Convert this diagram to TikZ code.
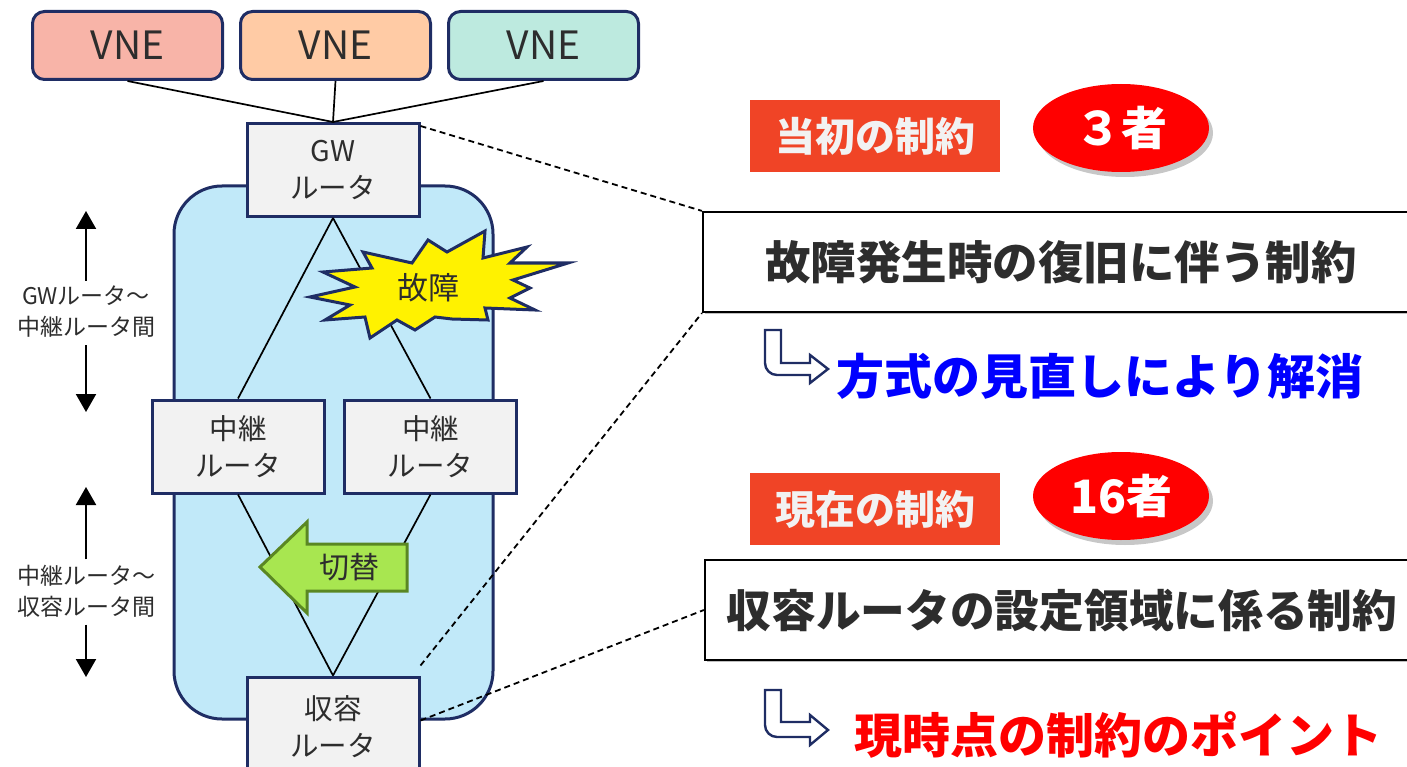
\documentclass[tikz,border=0pt]{standalone}
\usepackage{fontspec}
\setmainfont{Noto Sans CJK JP}
\usetikzlibrary{arrows.meta,shadows,calc,shapes.geometric}
\definecolor{navy}{RGB}{31,45,100}
\definecolor{vnered}{RGB}{248,180,168}
\definecolor{vneorange}{RGB}{255,203,165}
\definecolor{vnegreen}{RGB}{189,234,223}
\definecolor{boxgray}{RGB}{242,242,242}
\definecolor{zoneblue}{RGB}{193,233,249}
\definecolor{txtgray}{RGB}{45,45,45}
\definecolor{labelred}{RGB}{240,68,38}
\definecolor{switchgreen}{RGB}{168,230,80}
\definecolor{switchborder}{RGB}{90,135,35}
\definecolor{solvedblue}{RGB}{0,0,255}
\tikzset{
  vnebox/.style={draw=navy, line width=3pt, rounded corners=12pt, minimum width=190pt, minimum height=68pt, text=txtgray, font=\fontsize{39}{44}\selectfont},
  router/.style={draw=navy, line width=3pt, fill=boxgray, minimum width=172pt, minimum height=93pt, align=center, text=txtgray, font=\fontsize{28.5}{37}\selectfont},
  link/.style={draw=black, line width=1.7pt},
  dashlink/.style={draw=black, line width=1.8pt, dash pattern=on 6pt off 4pt},
  span/.style={draw=black, line width=2pt, -{Triangle[width=20pt,length=18pt]}},
  spanlabel/.style={align=center, text=txtgray, font=\fontsize{23}{31}\selectfont},
  redlabel/.style={fill=labelred, minimum width=250pt, minimum height=72pt, text=white!95!black, font=\fontsize{40}{44}\selectfont\bfseries},
  count/.style={ellipse, fill=red, minimum width=176pt, minimum height=88pt, text=white, font=\fontsize{46}{50}\selectfont\bfseries, drop shadow={shadow xshift=4pt, shadow yshift=-5pt, opacity=0.22, fill=black}},
  constraint/.style={draw=black, line width=2.2pt, fill=white, text=txtgray, drop shadow={shadow xshift=2pt, shadow yshift=-2pt, opacity=0.25, fill=black}},
  hook/.style={draw=navy, line width=2.4pt, fill=white, line join=miter},
}
\begin{document}
\begin{tikzpicture}[x=1pt,y=-1pt]
\useasboundingbox (0,0) rectangle (1407,767);

% zone
\node[draw=navy, line width=3pt, fill=zoneblue, rounded corners=48pt, minimum width=319pt, minimum height=533pt] (zone) at (333.5,452.5) {};

% VNE boxes
\node[vnebox, fill=vnered] (v1) at (127.5,45.5) {VNE};
\node[vnebox, fill=vneorange] (v2) at (335.5,45.5) {VNE};
\node[vnebox, fill=vnegreen] (v3) at (543.5,45.5) {VNE};

% routers
\node[router] (gw) at (333,170) {GW\\ルータ};
\node[router] (r1) at (238,446.5) {中継\\ルータ};
\node[router] (r2) at (430.5,446.5) {中継\\ルータ};
\node[router, minimum height=100pt] (acc) at (333,727) {収容\\ルータ};

% links
\draw[link] (v1.south) -- (gw.north);
\draw[link] (v2.south) -- (gw.north);
\draw[link] (v3.south) -- (gw.north);
\draw[link] (gw.south) -- (r1.north);
\draw[link] (gw.south) -- (r2.north);
\draw[link] (r1.south) -- (acc.north);
\draw[link] (r2.south) -- (acc.north);

% fault star
\draw[draw=navy, line width=3pt, fill=yellow, line join=miter]
  (363,252) -- (412,263) -- (428,240) -- (447,252) -- (485,231) -- (483,258)
  -- (527,247) -- (510,263) -- (568,263) -- (513,280) -- (530,288) -- (510,298)
  -- (535,310) -- (485,308) -- (488,320) -- (452,319) -- (435,317) -- (415,330)
  -- (397,320) -- (370,338) -- (365,317) -- (325,320) -- (350,305) -- (310,297)
  -- (355,287) -- (323,272) -- (372,268) -- cycle;
\node[text=txtgray, font=\fontsize{31}{34}\selectfont] (fault) at (428,288) {故障};

% switch arrow
\draw[draw=switchborder, line width=3pt, fill=switchgreen, line join=miter]
  (260,567) -- (307,522) -- (307,544) -- (407,544) -- (407,591) -- (307,591) -- (307,613) -- cycle;
\node[text=txtgray, font=\fontsize{30}{34}\selectfont] (switch) at (349,567) {切替};

% span labels
\node[spanlabel] (s1) at (86,312) {GWルータ～\\中継ルータ間};
\coordinate (s1top) at (86,211);
\coordinate (s1bot) at (86,412);
\draw[span] ($(s1.north)+(0,-2)$) -- (s1top);
\draw[span] ($(s1.south)+(0,4)$) -- (s1bot);
\node[spanlabel] (s2) at (86,591) {中継ルータ～\\収容ルータ間};
\coordinate (s2top) at (86,487);
\coordinate (s2bot) at (86,677);
\draw[span] ($(s2.north)+(0,-2)$) -- (s2top);
\draw[span] ($(s2.south)+(0,4)$) -- (s2bot);

% right side
\node[redlabel] (lab1) at (875,136) {当初の制約};
\node[count] (n1) at (1121,128) {３者};
\node[constraint, minimum width=717pt, minimum height=100pt] (c1) at (1061.5,262) {};
\node[text=txtgray, font=\fontsize{45.5}{50}\selectfont\bfseries] (c1t) at (1061,262) {故障発生時の復旧に伴う制約};

\draw[hook] (765,330) -- (781,330) -- (781,363) -- (810,363) -- (810,355) -- (828,369) -- (810,383) -- (810,375) [rounded corners=12pt] -- (765,375) [sharp corners] -- cycle;
\node[text=solvedblue, font=\fontsize{48}{52}\selectfont\bfseries] (solved) at (1100,376) {方式の見直しにより解消};

\node[redlabel] (lab2) at (875,509) {現在の制約};
\node[count] (n2) at (1121,496) {16者};
\node[constraint, minimum width=715pt, minimum height=100pt] (c2) at (1062.5,610) {};
\node[text=txtgray, font=\fontsize{44.7}{50}\selectfont\bfseries] (c2t) at (1062,611) {収容ルータの設定領域に係る制約};

\draw[hook] (765,690) -- (781,690) -- (781,722) -- (810,722) -- (810,715) -- (828,730) -- (810,745) -- (810,737) [rounded corners=12pt] -- (765,737) [sharp corners] -- cycle;
\node[text=red, font=\fontsize{48}{52}\selectfont\bfseries] (point) at (1118,735) {現時点の制約のポイント};

% dashed callouts
\draw[dashlink] ($(gw.north east)+(0,4)$) -- (c1.north west);
\draw[dashlink] ($(acc.north east)+(0,-10)$) -- (c1.south west);
\draw[dashlink] ($(acc.north east)+(0,45)$) -- (c2.west);
\end{tikzpicture}
\end{document}
